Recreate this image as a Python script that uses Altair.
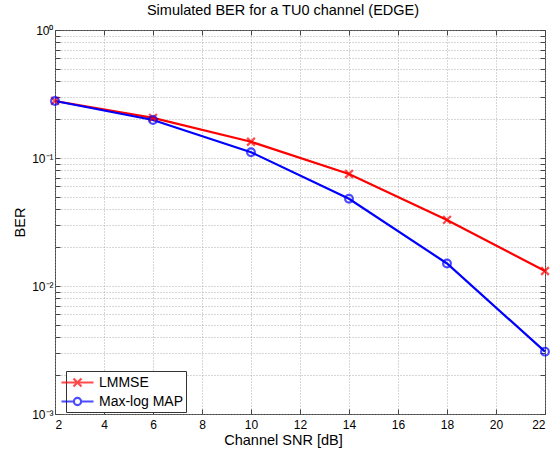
import altair as alt
import pandas as pd

# Simulated bit error rate versus channel SNR for two equalisers
snr_db = [2, 6, 10, 14, 18, 22]
ber_lmmse = [0.279, 0.206, 0.134, 0.075, 0.0328, 0.0131]
ber_maxlog = [0.279, 0.198, 0.111, 0.048, 0.0150, 0.00307]
series_names = ["LMMSE", "Max-log MAP"]
series_colors = ["#ff0000", "#0000ff"]

x_ticks = [2, 4, 6, 8, 10, 12, 14, 16, 18, 20, 22]
y_ticks = [m * 10.0 ** e for e in (-3, -2, -1) for m in range(1, 10)] + [1.0]

# marker shapes drawn on the curves
marker_paths = ["M-1,-1L1,1M-1,1L1,-1", "circle"]
# legend samples: a short line segment with the marker in its middle
legend_paths = [
    "M-2,0L2,0M-0.5,-0.5L0.5,0.5M-0.5,0.5L0.5,-0.5",
    "M-2,0L-0.45,0M0.45,0L2,0M0.45,0A0.45,0.45 0 1,1 -0.45,0A0.45,0.45 0 1,1 0.45,0",
]

df = pd.DataFrame(
    {
        "snr": snr_db * 2,
        "ber": ber_lmmse + ber_maxlog,
        "series": [series_names[0]] * len(snr_db) + [series_names[1]] * len(snr_db),
    }
)

FONT = "Liberation Sans"
GRID = dict(grid=True, gridDash=[1, 2], gridColor="#9a9a9a", gridWidth=0.8)
INWARD = {"expr": "-5"}

x_scale = alt.Scale(domain=[2, 22], nice=False, zero=False)
y_scale = alt.Scale(type="log", domain=[0.001, 1], nice=False)

x_enc = alt.X(
    "snr:Q",
    scale=x_scale,
    axis=alt.Axis(
        orient="bottom",
        values=x_ticks,
        title="Channel SNR [dB]",
        titleFontSize=14.5,
        titleFontWeight="normal",
        titlePadding=3,
        titleX=228,
        labelFontSize=12,
        labelPadding=10,
        tickSize=INWARD,
        tickColor="#444",
        domain=False,
        **GRID,
    ),
)
y_enc = alt.Y(
    "ber:Q",
    scale=y_scale,
    axis=alt.Axis(
        orient="left",
        values=y_ticks,
        labelExpr=(
            "abs(log(datum.value)/LN10 - round(log(datum.value)/LN10)) < 0.001"
            " ? '10' + ['⁰','⁻¹','⁻²','⁻³'][-round(log(datum.value)/LN10)] : ''"
        ),
        title="BER",
        titleFontSize=14.5,
        titleFontWeight="normal",
        titlePadding=4,
        labelFontSize=12,
        labelPadding=7,
        tickSize=INWARD,
        tickColor="#444",
        domain=False,
        **GRID,
    ),
)
color_enc = alt.Color(
    "series:N",
    scale=alt.Scale(domain=series_names, range=series_colors),
    legend=None,
)

base = alt.Chart(df).encode(x=x_enc, y=y_enc, color=color_enc)

lines = base.mark_line(strokeWidth=2.2)
markers = base.mark_point(size=60, strokeWidth=2.2, filled=False).encode(
    shape=alt.Shape(
        "series:N",
        scale=alt.Scale(domain=series_names, range=marker_paths),
        legend=None,
    )
)
curves = alt.layer(lines, markers)

# empty layer: carries the legend and the mirrored tick marks on top / right
mirror_axis = dict(
    labels=False, title=None, grid=False, domain=False,
    tickSize=INWARD, tickColor="#444",
)
legend_layer = (
    alt.Chart(df)
    .transform_filter("false")
    .mark_point(filled=False)
    .encode(
        x=alt.X("snr:Q", scale=x_scale,
                axis=alt.Axis(orient="top", values=x_ticks, **mirror_axis)),
        y=alt.Y("ber:Q", scale=y_scale,
                axis=alt.Axis(orient="right", values=y_ticks, **mirror_axis)),
        shape=alt.Shape(
            "series:N",
            scale=alt.Scale(domain=series_names, range=legend_paths),
            legend=alt.Legend(
                title=None,
                orient="none",
                legendX=11,
                legendY=341,
                direction="vertical",
                fillColor="white",
                strokeColor="#333",
                padding=2,
                rowPadding=1,
                symbolSize=256,
                symbolStrokeWidth=2.2,
                symbolStrokeColor={"expr": "scale('color', datum.value)"},
                labelFontSize=14,
                labelFont=FONT,
                labelColor="black",
                labelOffset=12,
            ),
        ),
    )
)

chart = (
    alt.layer(curves, legend_layer)
    .resolve_scale(shape="independent")
    .resolve_axis(x="independent", y="independent")
    .properties(
        width=490,
        height=384,
        title=alt.TitleParams(
            "Simulated BER for a TU0 channel (EDGE)",
            fontSize=14.5,
            fontWeight="normal",
            font=FONT,
            color="black",
            offset=6,
            dx=-17,
        ),
        autosize=alt.AutoSizeParams(type="none"),
        padding={"left": 55, "top": 30, "right": 6, "bottom": 36},
    )
    .configure(font=FONT, background="white")
    .configure_axis(labelFont=FONT, titleFont=FONT, labelColor="black", titleColor="black")
    .configure_view(stroke="#444", strokeWidth=1)
)

chart.save("out.html", embed_options={"renderer": "svg", "actions": False})
